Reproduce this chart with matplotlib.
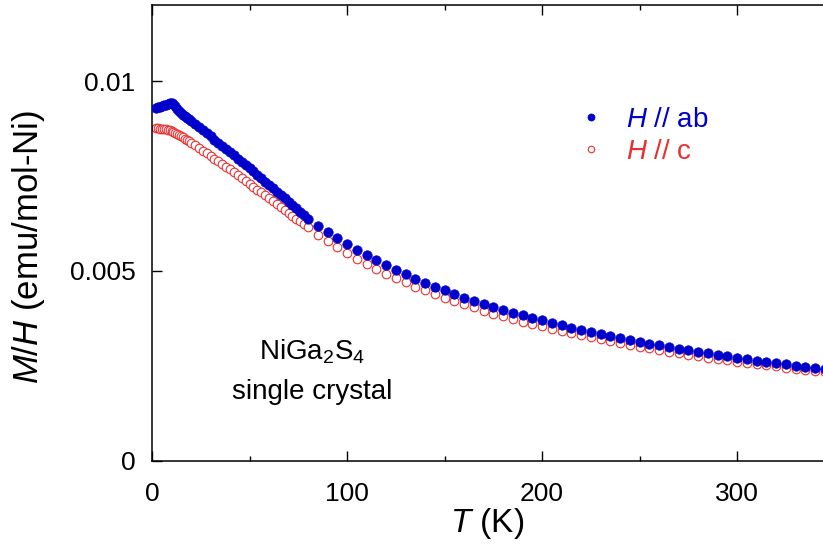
#!/usr/bin/env python3
"""M/H vs T for NiGa2S4 single crystal, H // ab and H // c."""
import numpy as np
import matplotlib
matplotlib.use('Agg')
import matplotlib.pyplot as plt
from matplotlib.ticker import MultipleLocator

plt.rcParams['font.family'] = ['Liberation Sans', 'DejaVu Sans']
plt.rcParams['mathtext.fontset'] = 'custom'
plt.rcParams['mathtext.rm'] = 'Liberation Sans'
plt.rcParams['mathtext.it'] = 'Liberation Sans:italic'

# temperatures (K): dense below 80 K, every 5 K above
T_low = [2, 3, 4, 5, 6, 7, 8, 9, 10, 11, 12, 13, 14, 15, 16, 17, 18, 19, 20,
         22, 24, 26, 28, 30, 32, 34, 36, 38, 40, 42, 44, 46, 48, 50, 52, 54,
         56, 58, 60, 62, 64, 66, 68, 70, 72, 74, 76, 78, 80]
T_high = list(range(85, 350, 5))

# M/H (emu/mol-Ni), H // ab
ab_low = [0.00930, 0.00931, 0.00932, 0.00934, 0.00936, 0.00938, 0.00940,
          0.00941, 0.00941, 0.00939, 0.00934, 0.00927, 0.00921, 0.00916,
          0.00911, 0.00907, 0.00903, 0.00899, 0.00895, 0.00887, 0.00879,
          0.00871, 0.00862, 0.00854, 0.00846, 0.00838, 0.00830, 0.00821,
          0.00813, 0.00805, 0.00796, 0.00788, 0.00779, 0.00770, 0.00762,
          0.00753, 0.00744, 0.00735, 0.00727, 0.00718, 0.00709, 0.00700,
          0.00691, 0.00682, 0.00674, 0.00665, 0.00656, 0.00647, 0.00638]
ab_high = [0.00619, 0.00603, 0.00587, 0.00571, 0.00556, 0.00541, 0.00528,
           0.00515, 0.00502, 0.00491, 0.00480, 0.00469, 0.00458, 0.00449,
           0.00439, 0.00430, 0.00422, 0.00413, 0.00405, 0.00398, 0.00390,
           0.00383, 0.00376, 0.00370, 0.00363, 0.00357, 0.00351, 0.00345,
           0.00340, 0.00334, 0.00329, 0.00324, 0.00319, 0.00314, 0.00309,
           0.00305, 0.00300, 0.00296, 0.00292, 0.00287, 0.00283, 0.00279,
           0.00275, 0.00271, 0.00268, 0.00264, 0.00261, 0.00258, 0.00254,
           0.00251, 0.00248, 0.00245, 0.00242]

# M/H (emu/mol-Ni), H // c
c_low = [0.00876, 0.00876, 0.00875, 0.00875, 0.00874, 0.00873, 0.00872,
         0.00870, 0.00868, 0.00866, 0.00864, 0.00861, 0.00858, 0.00855,
         0.00852, 0.00848, 0.00845, 0.00842, 0.00838, 0.00831, 0.00824,
         0.00817, 0.00810, 0.00803, 0.00796, 0.00789, 0.00782, 0.00775,
         0.00768, 0.00760, 0.00752, 0.00745, 0.00737, 0.00730, 0.00722,
         0.00714, 0.00707, 0.00699, 0.00692, 0.00684, 0.00676, 0.00669,
         0.00661, 0.00653, 0.00646, 0.00638, 0.00631, 0.00623, 0.00616]
c_high = [0.00596, 0.00578, 0.00562, 0.00547, 0.00532, 0.00518, 0.00505,
          0.00493, 0.00481, 0.00470, 0.00459, 0.00449, 0.00439, 0.00430,
          0.00421, 0.00412, 0.00404, 0.00396, 0.00388, 0.00381, 0.00374,
          0.00367, 0.00360, 0.00354, 0.00348, 0.00342, 0.00336, 0.00331,
          0.00325, 0.00320, 0.00315, 0.00310, 0.00306, 0.00301, 0.00297,
          0.00292, 0.00288, 0.00284, 0.00280, 0.00276, 0.00272, 0.00268,
          0.00265, 0.00261, 0.00258, 0.00255, 0.00252, 0.00249, 0.00246,
          0.00243, 0.00240, 0.00237, 0.00234]

T = np.array(T_low + T_high)
chi_ab = np.array(ab_low + ab_high)
chi_c = np.array(c_low + c_high)

blue = '#0000cc'
red = '#e8302f'
fs = 19      # tick labels
fs_lab = 24  # axis labels
fs_txt = 20  # legend / annotation

fig = plt.figure(figsize=(8.23, 5.52), dpi=100)
ax = fig.add_axes([0.1847, 0.1649, 0.8153, 0.826])

ax.plot(T, chi_c, 'o', ms=6.2, mfc='white', mec=red, mew=0.8,
        label='$\\mathit{H}$ // c', zorder=2)
ax.plot(T, chi_ab, 'o', ms=6.8, mfc=blue, mec=blue, mew=0.5,
        label='$\\mathit{H}$ // ab', zorder=3)

ax.set_xlim(0, 344)
ax.set_ylim(0, 0.012)
ax.xaxis.set_major_locator(MultipleLocator(100))
ax.xaxis.set_minor_locator(MultipleLocator(50))
ax.set_yticks([0, 0.005, 0.01])
ax.set_yticklabels(['0', '0.005', '0.01'])

ax.tick_params(which='both', direction='in', top=True, right=False,
               width=1.0, labelsize=fs)
ax.tick_params(which='major', length=7.5)
ax.tick_params(which='minor', length=3.8)
ax.tick_params(axis='x', pad=15)
ax.tick_params(axis='y', pad=12)
ax.spines['right'].set_visible(False)
for s in ('left', 'bottom', 'top'):
    ax.spines[s].set_linewidth(1.1)

ax.set_xlabel('$\\mathit{T}$ (K)', fontsize=fs_lab, labelpad=0)
ax.set_ylabel('$\\mathit{M/H}$ (emu/mol-Ni)', fontsize=25)
ax.yaxis.set_label_coords(-0.157, 0.47)

ax.text(0.238, 0.239, 'NiGa$_2$S$_4$', transform=ax.transAxes,
        ha='center', va='center', fontsize=fs_txt)
ax.text(0.238, 0.152, 'single crystal', transform=ax.transAxes,
        ha='center', va='center', fontsize=fs_txt)

handles, labels = ax.get_legend_handles_labels()
leg = ax.legend(handles[::-1], labels[::-1], loc='upper left',
                bbox_to_anchor=(577 / 823, 1 - 107 / 552),
                bbox_transform=fig.transFigure, frameon=False, fontsize=fs_txt,
                handlelength=1.0, handletextpad=0.75, labelspacing=0.2,
                borderpad=0, borderaxespad=0, markerscale=0.75)
for txt, col in zip(leg.get_texts(), [blue, red]):
    txt.set_color(col)

plt.savefig('out.png', dpi=100)
plt.close()
